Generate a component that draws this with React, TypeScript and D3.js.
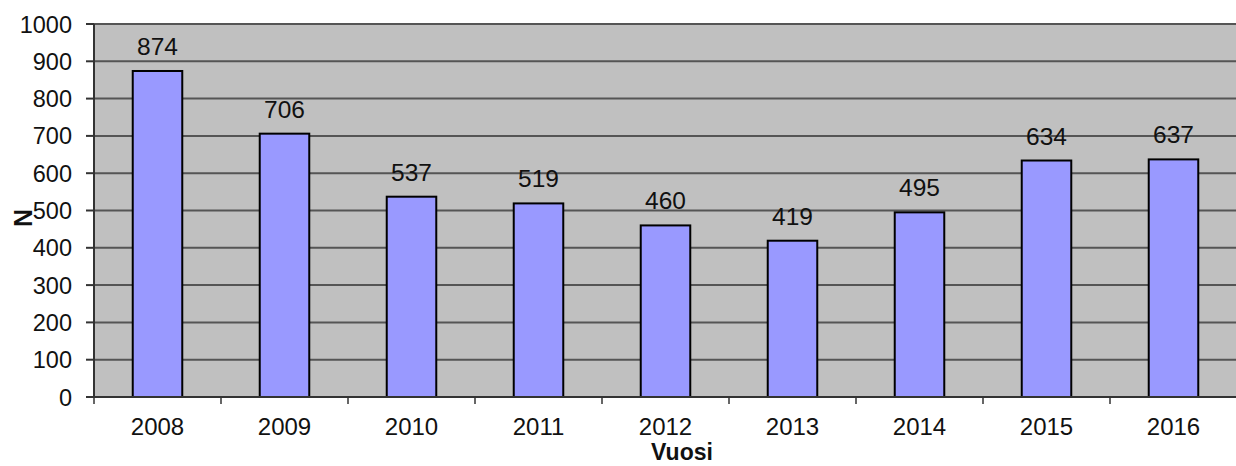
import React from "react";
import * as d3 from "d3";

const years = ["2008", "2009", "2010", "2011", "2012", "2013", "2014", "2015", "2016"];
const counts = [874, 706, 537, 519, 460, 419, 495, 634, 637];
const yTicks = [0, 100, 200, 300, 400, 500, 600, 700, 800, 900, 1000];

const W = 1236;
const H = 466;
const left = 94;
const right = 1237;
const top = 24;
const bottom = 397;
const font = "Arial, 'Liberation Sans', sans-serif";

export default function App() {
  const x = d3.scaleBand<string>().domain(years).range([left, right]).paddingInner(0).paddingOuter(0);
  const y = d3.scaleLinear().domain([0, 1000]).range([bottom, top]);
  const bw = x.bandwidth() * 0.39;

  const T = (tx: number, ty: number, s: string, anchor: string, size: number, weight = "normal", key?: any) => (
    <text key={key} x={tx} y={ty} textAnchor={anchor as any}
      fontFamily={font} fontSize={size} fontWeight={weight} fill="#111">{s}</text>
  );

  return (
    <svg width={W} height={H} style={{ position: "absolute", left: 0, top: 0, background: "#fff" }}>
      <rect x={left} y={top} width={right - left} height={bottom - top} fill="#c0c0c0" />
      {yTicks.filter(t => t > 0).map(t => (
        <line key={t} x1={left} x2={right} y1={y(t)} y2={y(t)} stroke="#555" strokeWidth={2} />
      ))}
      {years.map((yr, i) => {
        const cx = x(yr)! + x.bandwidth() / 2;
        return (
          <rect key={yr} x={cx - bw / 2} y={y(counts[i])} width={bw} height={bottom - y(counts[i])}
            fill="#9999ff" stroke="#000" strokeWidth={2} />
        );
      })}
      <line x1={left} x2={left} y1={top} y2={bottom} stroke="#333" strokeWidth={2} />
      <line x1={left} x2={right} y1={bottom} y2={bottom} stroke="#333" strokeWidth={2} />
      {yTicks.map(t => (
        <line key={"yt" + t} x1={left - 8} x2={left} y1={y(t)} y2={y(t)} stroke="#333" strokeWidth={2} />
      ))}
      {years.map((yr) => (
        <line key={"xt" + yr} x1={x(yr)!} x2={x(yr)!} y1={bottom} y2={bottom + 7} stroke="#333" strokeWidth={1.5} />
      ))}
      {yTicks.map(t => T(72, y(t) + 8.5, String(t), "end", 23.5, "normal", "yl" + t))}
      {years.map((yr) => T(x(yr)! + x.bandwidth() / 2, 435, yr, "middle", 24, "normal", "xl" + yr))}
      {years.map((yr, i) => T(x(yr)! + x.bandwidth() / 2, y(counts[i]) - 16, String(counts[i]), "middle", 24.5, "normal", "vl" + yr))}
      {T(682, 460, "Vuosi", "middle", 23, "bold")}
      <text transform={`translate(32,218) rotate(-90)`} textAnchor="middle"
        fontFamily={font} fontSize={25} fontWeight="bold" fill="#111">N</text>
    </svg>
  );
}
